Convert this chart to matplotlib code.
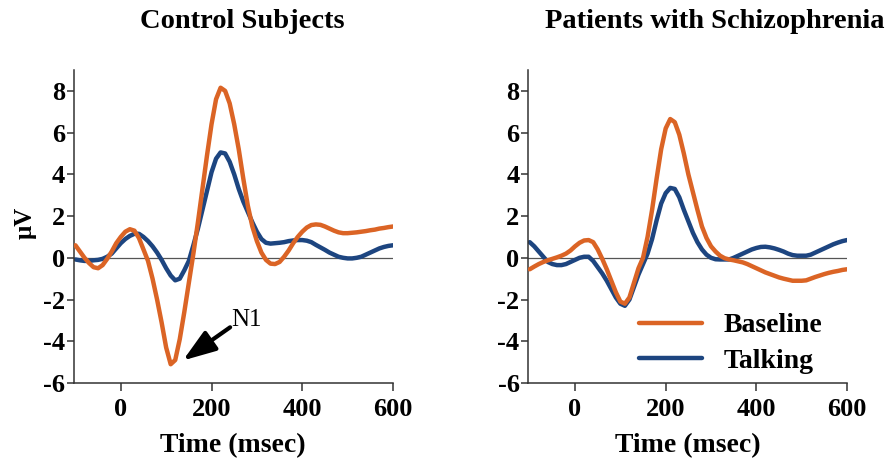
import numpy as np
import matplotlib
matplotlib.use("Agg")
import matplotlib.pyplot as plt

time_ms = list(range(-100, 601, 10))

control_baseline = [0.6, 0.3, 0.0, -0.25, -0.45, -0.5, -0.35, -0.05, 0.3, 0.7,
                    1.0, 1.25, 1.37, 1.3, 0.95, 0.4, -0.15, -1.0, -2.0, -3.1,
                    -4.3, -5.1, -4.9, -3.9, -2.6, -1.2, 0.2, 1.7, 3.3, 4.9,
                    6.4, 7.6, 8.15, 8.0, 7.4, 6.4, 5.2, 3.8, 2.5, 1.5,
                    0.8, 0.25, -0.1, -0.28, -0.3, -0.2, 0.05, 0.35, 0.7, 1.0,
                    1.25, 1.45, 1.57, 1.6, 1.58, 1.5, 1.4, 1.3, 1.22, 1.18,
                    1.18, 1.2, 1.22, 1.25, 1.28, 1.32, 1.35, 1.4, 1.43, 1.47, 1.5]

control_talking = [-0.08, -0.12, -0.15, -0.15, -0.12, -0.1, -0.05, 0.05, 0.2, 0.45,
                   0.7, 0.9, 1.05, 1.15, 1.15, 1.0, 0.8, 0.55, 0.25, -0.1,
                   -0.5, -0.85, -1.08, -1.0, -0.6, -0.15, 0.6, 1.4, 2.3, 3.2,
                   4.1, 4.75, 5.05, 5.0, 4.6, 4.0, 3.3, 2.7, 2.2, 1.7,
                   1.25, 0.9, 0.72, 0.68, 0.7, 0.72, 0.75, 0.8, 0.83, 0.85,
                   0.85, 0.82, 0.75, 0.62, 0.5, 0.38, 0.25, 0.15, 0.05, 0.0,
                   -0.03, -0.03, 0.0, 0.05, 0.15, 0.25, 0.35, 0.45, 0.52, 0.57, 0.6]

patient_baseline = [-0.55, -0.42, -0.3, -0.2, -0.12, -0.05, 0.02, 0.1, 0.2, 0.35,
                    0.55, 0.72, 0.83, 0.85, 0.75, 0.4, -0.05, -0.55, -1.1, -1.65,
                    -2.1, -2.2, -1.9, -1.2, -0.5, 0.0, 1.0, 2.3, 3.8, 5.2,
                    6.2, 6.65, 6.5, 5.9, 5.0, 4.0, 3.15, 2.3, 1.5, 0.95,
                    0.55, 0.3, 0.1, -0.02, -0.08, -0.12, -0.17, -0.22, -0.3, -0.4,
                    -0.5, -0.6, -0.7, -0.78, -0.86, -0.94, -1.0, -1.05, -1.1, -1.1,
                    -1.1, -1.08, -1.0, -0.92, -0.85, -0.78, -0.72, -0.67, -0.63, -0.58, -0.55]

patient_talking = [0.75, 0.55, 0.3, 0.05, -0.2, -0.3, -0.35, -0.35, -0.3, -0.2,
                   -0.1, 0.0, 0.05, 0.05, -0.15, -0.45, -0.75, -1.1, -1.5, -1.9,
                   -2.2, -2.3, -2.0, -1.4, -0.8, -0.3, 0.2, 0.9, 1.8, 2.6,
                   3.1, 3.35, 3.3, 2.9, 2.3, 1.75, 1.2, 0.75, 0.4, 0.15,
                   0.0, -0.07, -0.08, -0.08, -0.08, 0.0, 0.1, 0.2, 0.3, 0.4,
                   0.47, 0.52, 0.53, 0.5, 0.45, 0.38, 0.3, 0.2, 0.13, 0.1,
                   0.1, 0.1, 0.15, 0.25, 0.35, 0.45, 0.55, 0.65, 0.73, 0.8, 0.85]

panel_titles = ["Control Subjects", "Patients with Schizophrenia"]
series_labels = ["Baseline", "Talking"]
x_ticks = [0, 200, 400, 600]
y_ticks = [-6, -4, -2, 0, 2, 4, 6, 8]
n1_label = "N1"
n1_point = (137, -4.92)

ORANGE = "#DB6425"
BLUE = "#1D4580"
SERIF = "Liberation Serif"

W, H = 888, 465
fig = plt.figure(figsize=(W / 100, H / 100), dpi=100)

def ax_rect(left_px, top_px, right_px, bottom_px):
    return [left_px / W, 1 - bottom_px / H, (right_px - left_px) / W, (bottom_px - top_px) / H]

ax1 = fig.add_axes(ax_rect(73.6, 70, 393, 383))
ax2 = fig.add_axes(ax_rect(527.9, 70, 847, 383))

data = [(control_baseline, control_talking), (patient_baseline, patient_talking)]
for ax, (base, talk) in zip([ax1, ax2], data):
    ax.axhline(0, color="#555555", lw=0.9, zorder=1)
    ax.plot(time_ms, talk, color=BLUE, lw=3.2, solid_capstyle="round",
            solid_joinstyle="round", zorder=2, label=series_labels[1])
    ax.plot(time_ms, base, color=ORANGE, lw=3.2, solid_capstyle="round",
            solid_joinstyle="round", zorder=3, label=series_labels[0])
    ax.set_xlim(-104, 600)
    ax.set_ylim(-6, 9)
    ax.set_xticks(x_ticks)
    ax.set_yticks(y_ticks)
    ax.set_xticklabels([str(v) for v in x_ticks], fontfamily=SERIF, fontweight="bold", fontsize=19)
    ax.set_yticklabels([str(v) for v in y_ticks], fontfamily=SERIF, fontweight="bold", fontsize=19)
    ax.tick_params(axis="x", direction="out", length=6, width=1.1, color="#333333", pad=4.5)
    ax.tick_params(axis="y", direction="out", length=5, width=1.1, color="#333333", pad=1)
    for s in ["top", "right"]:
        ax.spines[s].set_visible(False)
    for s in ["left", "bottom"]:
        ax.spines[s].set_linewidth(1.1)
        ax.spines[s].set_color("#333333")
    ax.set_xlabel("Time (msec)", fontfamily=SERIF, fontweight="bold", fontsize=20, labelpad=9)
    ax.patch.set_alpha(0)

ax1.set_ylabel("μV", fontfamily=SERIF, fontweight="bold", fontsize=18, labelpad=2)
ax1.yaxis.set_label_coords(-0.115, 0.51)

fig.text(242 / W, 1 - 22 / H, panel_titles[0], fontfamily=SERIF, fontweight="bold",
         fontsize=20.5, ha="center", va="center")
fig.text(715 / W, 1 - 22 / H, panel_titles[1], fontfamily=SERIF, fontweight="bold",
         fontsize=20.5, ha="center", va="center")

ax1.annotate("", xy=n1_point, xytext=(241, -3.33),
             arrowprops=dict(arrowstyle="-|>,head_length=2.0,head_width=0.7",
                             mutation_scale=10, color="black", lw=3,
                             shrinkA=0, shrinkB=0))
ax1.text(278, -3.0, n1_label, fontfamily=SERIF, fontsize=18, ha="center", va="center")

handles, labels = ax2.get_legend_handles_labels()
order = [labels.index(l) for l in series_labels]
leg = ax2.legend([handles[i] for i in order], [labels[i] for i in order],
                 loc="lower right", bbox_to_anchor=(1.0, -0.05), frameon=False,
                 prop={"family": SERIF, "weight": "bold", "size": 20},
                 handlelength=2.3, handletextpad=0.75, labelspacing=0.35)

fig.savefig("out.png", dpi=100)
